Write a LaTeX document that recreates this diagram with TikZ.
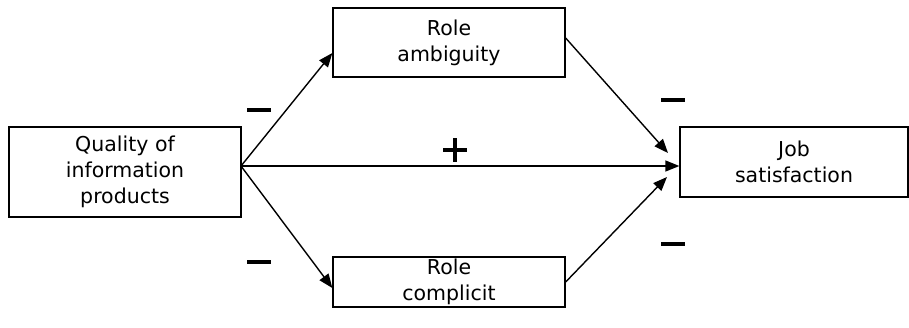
\documentclass[tikz,border=0pt]{standalone}
\usepackage{fontspec}
\setmainfont{DejaVu Sans}
\usetikzlibrary{arrows.meta}
\begin{document}
\begin{tikzpicture}[x=1pt,y=-1pt,
  box/.style={draw,line width=1.3pt,inner sep=0pt,align=center,
    font=\fontsize{20.5}{26}\selectfont},
  link/.style={line width=1.4pt,-{Triangle[length=14pt,width=11pt]}},
  bar/.style={fill=black,minimum width=24pt,minimum height=3.8pt,inner sep=0pt}]
\useasboundingbox (0,0) rectangle (909,327);
\node[box,minimum width=232pt,minimum height=90pt] (q) at (125,172)
  {Quality of\\information\\products};
\node[box,minimum width=232pt,minimum height=69pt] (ra) at (449,42.5)
  {Role\\ambiguity};
\node[box,minimum width=232pt,minimum height=50pt] (rc) at (449,282)
  {Role\\complicit};
\node[box,minimum width=228pt,minimum height=70pt] (js) at (794,162)
  {Job\\satisfaction};
\coordinate (o) at (241,166);
\draw[link] (o) -- (ra.west |- 0,53);
\draw[link] (o) -- (rc.west |- 0,288);
\draw[link] (o) -- (js.west |- o);
\draw[link] (ra.east |- 0,38) -- (668,153);
\draw[link] (rc.east |- 0,282) -- (667,177);
% signs of the paths
\node[bar] (s1) at (259,110) {};
\node[bar] (s2) at (259,262) {};
\node[bar] (s3h) at (455,150) {};
\node[bar,minimum width=3.8pt,minimum height=24pt] (s3v) at (455,150) {};
\node[bar] (s4) at (673,100) {};
\node[bar] (s5) at (673,244) {};
\end{tikzpicture}
\end{document}
